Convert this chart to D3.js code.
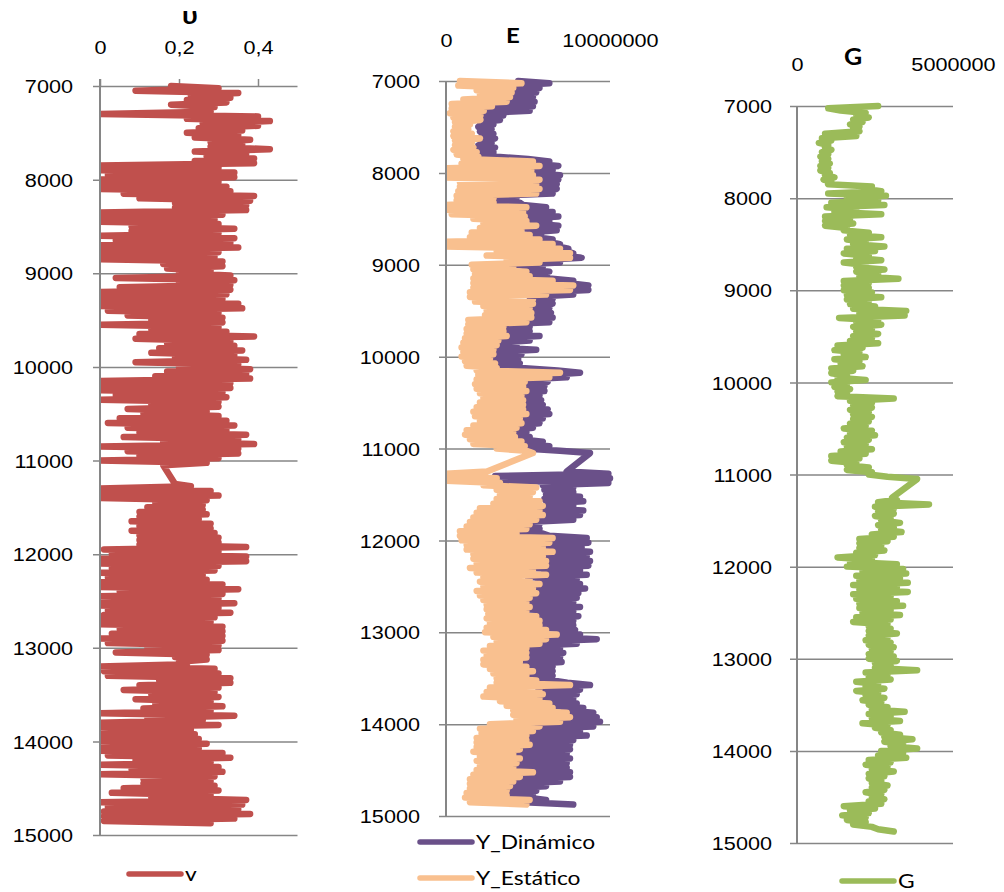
<!DOCTYPE html>
<html>
<head>
<meta charset="utf-8">
<script src="https://cdn.jsdelivr.net/npm/d3@7"></script>
<style>
  body { margin: 0; background: #fff; }
  svg { display: block; font-family: Lato, "Noto Sans", "DejaVu Sans", sans-serif; }
</style>
</head>
<body>
<svg id="chart" width="1004" height="892"></svg>
<script>
// ---------------------------------------------------------------
// Depth axis (ft) and tick labels
// ---------------------------------------------------------------
const depthTicks = [7000, 8000, 9000, 10000, 11000, 12000, 13000, 14000, 15000];
const nuTicks = [0, 0.2, 0.4];
const nuTickLabels = ["0", "0,2", "0,4"];
const eTicks = [0, 10000000];
const eTickLabels = ["0", "10000000"];
const gTicks = [0, 5000000];
const gTickLabels = ["0", "5000000"];

// Logged intervals (ft), 25 ft sampling; nothing was recorded between the two runs.
const logRuns = [[7000, 11050], [11250, 14875]];
const logStep = 25;

// Poisson's ratio
const nu = [
  .18,.30, .09,.35, .23,.33, .22,.32, .18,.29, .24,.28, 0,.40, .22,.43, .26,.40, .25,.36,
  .22,.35, .24,.38, .28,.36, .28,.43, .24,.37, .27,.39, .24,.39, 0,.30, 0,.34, .02,.34,
  0,.30, 0,.32, 0,.33, .06,.39, .10,.38, .19,.37, .19,.37, 0,.31, 0,.29, 0,.30,
  .08,.34, .08,.30, 0,.34, .04,.33, 0,.35, 0,.30, 0,.29, 0,.31, .16,.31, .17,.28,
  .20,.33, .04,.34, .20,.33, .05,.33, 0,.32, 0,.31, 0,.35, 0,.36, .02,.30, .07,.31,
  .13,.31, 0,.30, .13,.32, .10,.39, .09,.33, .17,.34, .15,.36, .13,.34, .19,.37, .09,.35,
  .20,.38, .17,.37, .14,.38, 0,.33, 0,.33, 0,.31, .04,.32, 0,.30, .13,.30, .07,.27,
  .11,.30, .05,.32, .02,.34, .07,.32, .10,.37, .06,.35, .16,.39, 0,.35, .07,.35, .10,.30,
  0,.27, .16,
  .19,.23,
  0,.28, 0,.30, 0,.27, .14,.26, .12,.26, .10,.27, .10,.25, .08,.28, .10,.28, .08,.29,
  .10,.30, .10,.30, .10,.37, .01,.30, .03,.37, 0,.37, 0,.30, .03,.29, 0,.26, .02,.27,
  0,.31, 0,.35, .05,.31, 0,.30, .01,.34, 0,.30, .02,.33, .01,.29, 0,.28, 0,.31,
  .05,.31, .03,.31, 0,.31, .02,.30, .12,.30, .04,.27, .19,.27, .20,.22, 0,.29, .01,.30,
  .02,.33, .15,.33, .10,.30, .06,.29, .13,.30, .09,.28, .14,.31, .11,.28, 0,.34, .12,.26,
  0,.30, 0,.23, .01,.24, 0,.25, 0,.27, .01,.25, 0,.31, .02,.33, .09,.28, 0,.30,
  .08,.31, 0,.29, .11,.28, .11,.29, .06,.30, .03,.28, .13,.37, 0,.36, .02,.35, .01,.38,
  .01,.34, .01,.28
];

// Young's modulus, in millions
const E_UNIT = 1e6;
const eDynamic = [
  4.4,6.3, 4.0,5.7, 3.9,5.5, 3.8,5.3, 3.6,5.4, 2.7,5.3, 2.3,5.1, 2.1,3.5, 2.1,3.29, 2.07,2.89,
  1.97,2.78, 2.07,2.89, 2.17,2.99, 2.07,2.78, 1.97,2.99, 1.97,2.89, 2.07,3.09, 5.0,6.3, 5.4,6.85, 5.0,6.5,
  5.1,6.95, 5.4,6.85, 5.3,6.75, 5.5,6.75, 5.3,6.5, 2.9,4.3, 2.9,4.5, 4.7,6.1, 4.6,6.5, 4.7,6.85,
  4.8,6.3, 5.3,6.85, 4.5,6.75, 5.0,5.8, 5.5,6.5, 6.2,6.95, 6.8,7.46, 7.3,7.76, 7.3,8.27, 5.5,6.95,
  4.0,5.9, 4.8,6.3, 5.0,6.0, 6.3,7.76, 7.5,8.68, 7.3,8.68, 5.9,7.76, 5.1,6.5, 5.1,6.5, 5.0,6.3,
  5.0,6.4, 5.0,6.5, 4.7,6.3, 3.3,5.1, 3.4,5.1, 3.5,5.7, 3.1,5.1, 3.0,4.3, 2.8,5.5, 2.8,4.6,
  2.6,4.4, 2.9,4.5, 3.0,4.6, 6.8,8.17, 6.1,7.36, 4.7,6.2, 4.6,6.0, 4.8,6.0, 4.5,5.7, 4.6,5.8,
  4.6,5.9, 4.6,6.2, 4.8,6.3, 4.4,5.9, 4.5,5.7, 4.2,5.3, 4.0,4.9, 4.1,5.1, 4.5,5.9, 4.7,6.3,
  4.8,6.95, 8.78,
  7.36,9.9,
  3.0,10.0, 3.2,9.9, 5.9,7.76, 6.0,7.76, 6.1,8.17, 6.0,8.37, 6.1,7.76, 5.6,8.37, 5.8,8.17, 5.4,7.76,
  5.0,5.7, 4.8,5.7, 4.2,5.9, 6.3,8.58, 6.2,8.68, 5.8,8.27, 6.3,8.78, 5.8,8.58, 6.0,8.78, 6.0,8.68,
  5.2,8.17, 6.0,8.58, 5.0,7.97, 5.6,8.17, 5.2,8.48, 5.4,8.07, 5.0,7.97, 4.8,7.76, 5.0,8.17, 4.8,7.76,
  5.4,8.07, 5.6,7.76, 5.6,7.76, 6.0,7.87, 6.6,8.17, 6.0,9.19, 5.6,7.97, 4.8,6.95, 4.8,7.15, 4.8,6.95,
  4.4,7.05, 4.8,6.5, 5.2,6.5, 4.8,6.5, 5.4,6.5, 7.4,8.78, 5.6,8.17, 5.8,7.97, 5.6,7.76, 6.2,7.97,
  6.4,8.37, 7.2,8.98, 7.4,9.19, 6.8,9.39, 5.6,8.98, 5.2,8.17, 4.8,8.58, 4.8,7.76, 5.0,7.56, 4.4,7.56,
  4.0,7.36, 4.4,7.56, 4.2,7.36, 4.0,7.36, 5.2,7.56, 4.4,7.56, 4.0,6.95, 3.8,6.1, 3.6,5.5, 3.6,5.3,
  5.0,6.1, 4.8,7.76
];
const eStatic = [
  .85,4.6, .75,4.1, 1.87,4.0, 2.07,3.9, 1.06,3.7, .35,2.8, .35,2.3, .24,2.1, .45,2.1, .55,1.46,
  .55,1.36, .45,1.57, .45,2.07, .55,1.57, .55,1.67, .45,1.87, .65,1.97, 1.06,5.3, .95,5.7, .05,5.2,
  0,5.3, 0,5.7, .85,5.5, .85,5.7, .75,5.5, .65,2.9, .65,2.9, 0,4.9, 0,4.7, .35,4.8,
  1.67,4.9, 2.28,5.5, 2.07,4.6, 1.57,5.1, 1.46,5.7, 0,6.5, 0,6.95, 3.09,7.56, 2.48,7.56, 3.7,5.7,
  1.57,4.1, 1.67,4.9, 1.77,5.1, 1.67,6.5, 1.67,7.76, 1.67,7.56, 1.46,6.1, 1.46,5.3, 1.77,5.3, 2.28,5.1,
  2.48,5.2, 2.38,5.2, 1.36,4.9, 1.36,3.5, 1.26,3.5, 1.26,3.7, 1.16,3.19, 1.06,3.09, .95,2.89, 1.06,2.89,
  .95,2.68, 1.16,2.99, 1.26,3.09, 1.87,6.95, 1.97,6.3, 1.87,4.8, 1.77,4.7, 1.87,4.9, 2.07,4.6, 2.28,4.7,
  2.07,4.7, 1.87,4.7, 1.67,4.9, 1.77,4.5, 2.07,4.6, 1.67,4.3, 1.26,4.1, 1.16,4.2, 1.46,4.6, 1.67,4.8,
  3.09,4.9, 5.3,
  2.5,0,
  0,3.09, .05,3.29, 2.28,5.5, 3.09,5.3, 3.29,5.1, 3.09,5.7, 2.89,5.9, 2.07,5.7, 1.87,5.9, 1.67,5.5,
  1.46,5.1, 1.26,4.9, .85,4.3, .85,6.5, .95,6.3, 1.26,5.9, 1.26,6.5, 1.67,5.9, 1.67,6.1, 1.87,6.1,
  1.46,5.3, 1.87,6.1, 2.28,5.1, 2.07,5.7, 2.28,5.3, 1.87,5.5, 2.07,5.1, 2.28,4.9, 2.48,5.1, 2.48,4.9,
  2.58,5.5, 2.48,5.7, 2.68,5.7, 2.48,6.1, 2.38,6.75, 2.89,6.1, 3.09,5.7, 2.68,4.9, 2.28,4.9, 2.48,4.9,
  2.28,4.5, 2.28,4.9, 2.68,5.3, 2.89,4.9, 3.09,5.5, 3.09,7.56, 2.68,5.7, 2.48,5.9, 2.28,5.7, 3.29,6.3,
  3.7,6.5, 4.1,7.36, 4.1,7.56, 4.3,6.95, 2.68,5.7, 2.07,5.3, 2.17,4.9, 1.87,4.9, 1.87,5.1, 1.87,4.5,
  1.67,4.1, 2.07,4.5, 1.87,4.3, 2.07,4.1, 1.87,5.3, 1.67,4.5, 1.46,4.1, 1.46,3.9, 1.46,3.7, 1.26,3.7,
  1.16,5.1, 1.46,4.9
];

// Shear modulus, in millions
const G_UNIT = 1e6;
const gShear = [
  2.6,1.0, 1.4,2.2, 1.9,2.3, 1.8,2.1, 1.7,2.0, 1.8,2.0, 0.9,1.9, 0.8,1.1, 0.7,1.0, 0.9,1.1,
  0.8,1.0, 0.75,1.0, 0.8,1.05, 0.75,1.0, 0.75,1.05, 0.9,1.2, 0.85,1.1, 1.0,2.4, 2.2,2.7, 1.0,2.85,
  1.6,2.6, 1.1,2.8, 0.95,1.9, 1.2,2.7, 0.9,1.7, 0.9,1.8, 0.9,1.6, 1.5,2.3, 1.7,2.7, 1.6,2.2,
  1.8,2.8, 1.6,2.5, 1.5,2.3, 1.9,2.7, 1.5,2.2, 1.9,2.8, 1.9,2.6, 2.0,3.25, 1.5,2.3, 1.5,2.3,
  1.5,2.4, 1.6,2.7, 1.6,2.3, 1.7,2.5, 1.8,3.5, 2.0,3.45, 1.35,2.6, 1.9,2.7, 1.8,2.4, 1.9,2.6,
  1.8,2.4, 1.7,2.6, 1.3,2.1, 1.2,2.0, 1.5,2.2, 1.2,2.0, 1.4,2.1, 1.1,1.8, 1.1,1.6, 1.3,2.2,
  1.1,1.6, 1.2,1.7, 1.3,1.6, 1.3,3.1, 1.7,2.4, 1.8,2.4, 1.7,2.3, 1.8,2.4, 1.8,2.3, 1.7,2.2,
  1.5,2.4, 1.7,2.5, 1.6,2.3, 1.5,2.2, 1.6,2.4, 1.4,2.2, 1.1,2.0, 1.1,1.9, 1.6,2.3, 1.6,2.4,
  2.3,2.9, 3.85,
  3.05,3.2,
  2.6,4.23, 2.5,3.1, 2.6,3.1, 2.5,3.0, 2.7,3.3, 2.6,3.1, 2.7,3.35, 2.4,3.1, 2.0,2.9, 2.0,2.7,
  2.0,2.8, 1.9,2.5, 1.3,2.4, 1.7,3.2, 1.6,3.4, 2.1,3.5, 1.9,3.3, 2.0,3.55, 1.8,3.2, 2.0,3.55,
  1.8,3.0, 1.9,3.2, 2.0,3.4, 2.0,3.0, 2.1,3.3, 1.9,3.0, 1.8,2.9, 2.3,3.0, 2.3,3.2, 2.3,2.9,
  2.2,3.0, 2.3,3.1, 2.4,3.0, 2.3,3.1, 2.3,3.2, 2.5,3.0, 2.5,3.85, 2.2,2.9, 2.3,3.0, 1.9,2.6,
  2.2,2.8, 1.9,2.6, 2.2,2.8, 2.1,2.7, 2.3,2.9, 2.4,3.45, 2.3,3.0, 2.4,3.3, 2.1,2.9, 2.5,3.0,
  2.7,3.3, 2.8,3.7, 2.8,3.4, 3.0,3.85, 2.7,3.4, 2.6,3.5, 2.3,3.0, 2.2,2.9, 2.4,3.1, 2.3,2.8,
  2.3,2.7, 2.4,2.9, 2.4,2.8, 2.2,2.7, 2.4,2.8, 2.3,2.7, 1.5,2.5, 1.7,2.3, 1.45,2.2, 1.6,2.2,
  1.8,2.4, 2.6,3.1
];

// ---------------------------------------------------------------
// Layout
// ---------------------------------------------------------------
const SX = 1.14;          // horizontal stretch of all lettering
const TICK_FONT = 19;
const LEGEND_FONT = 20;
const GRID = "#868686";
const TRACE_W = 6.5;
const KEY_W = 5.5;

const logDepths = logRuns.flatMap(([a, b]) => d3.range(a, b + logStep / 2, logStep));

const panels = [
  {
    left: 100, right: 297.5, top: 86, bottom: 835, xMax: 0.5,
    ticks: nuTicks, tickLabels: nuTickLabels, tickUp: 7, labelY: 47, labelGap: 27,
    title: "υ", titleX: 190, titleY: 15, titleSize: 25,
    series: [{ values: nu, unit: 1, color: "#C0504D", name: "v", lx: 129, ly: 874 }]
  },
  {
    left: 446, right: 610, top: 81, bottom: 816, xMax: 10000000,
    ticks: eTicks, tickLabels: eTickLabels, tickUp: 0, labelY: 40, labelGap: 26,
    title: "E", titleX: 513, titleY: 36, titleSize: 21,
    series: [
      { values: eDynamic, unit: E_UNIT, color: "#6A5089", name: "Y_Dinámico", lx: 420, ly: 842 },
      { values: eStatic, unit: E_UNIT, color: "#F9C08F", name: "Y_Estático", lx: 420, ly: 878 }
    ]
  },
  {
    left: 797, right: 953, top: 106, bottom: 843, xMax: 5000000,
    ticks: gTicks, tickLabels: gTickLabels, tickUp: 0, labelY: 64, labelGap: 25,
    title: "G", titleX: 853, titleY: 57, titleSize: 22,
    series: [{ values: gShear, unit: G_UNIT, color: "#9BBB59", name: "G", lx: 842, ly: 881 }]
  }
];

const svg = d3.select("#chart");

function stretchText(sel, dx) {
  sel.attr("x", 0).attr("y", null)
     .attr("transform", `translate(${dx},0) scale(${SX},1)`)
     .attr("fill", "#000")
     .style("font-size", TICK_FONT + "px");
}

panels.forEach((p, pi) => {
  const g = svg.append("g");
  const x = d3.scaleLinear().domain([0, p.xMax]).range([p.left, p.right]);
  const y = d3.scaleLinear().domain([7000, 15000]).range([p.top, p.bottom]);
  const w = p.right - p.left;

  // horizontal gridlines with their outer tick stubs
  const grid = g.append("g")
    .attr("transform", `translate(${p.left - 7},0)`)
    .call(d3.axisLeft(y).tickValues(depthTicks).tickSize(-(w + 7)).tickFormat(""));
  grid.select(".domain").remove();
  grid.selectAll("line").attr("stroke", GRID).attr("stroke-width", 1.5);

  // depth labels
  const yAx = g.append("g")
    .attr("transform", `translate(${p.left},0)`)
    .call(d3.axisLeft(y).tickValues(depthTicks).tickSize(0).tickFormat(d3.format("d")));
  yAx.select(".domain").remove();
  yAx.selectAll("text").attr("text-anchor", "end").attr("dy", "0.35em")
     .call(stretchText, -p.labelGap);

  // value axis along the top
  const xAx = g.append("g")
    .attr("transform", `translate(0,${p.top})`)
    .call(d3.axisTop(x).tickValues(p.ticks).tickSize(p.tickUp)
      .tickFormat((d, i) => p.tickLabels[i]));
  xAx.select(".domain").remove();
  xAx.selectAll("line").attr("stroke", GRID).attr("stroke-width", 1.5);
  xAx.selectAll("text").attr("text-anchor", "middle").call(stretchText, 0)
     .attr("y", p.labelY - p.top).attr("dy", "0.35em");

  // curves, clipped at the depth axis
  const clipId = "clip" + pi;
  svg.append("clipPath").attr("id", clipId)
    .append("rect").attr("x", p.left).attr("y", 0).attr("width", 1004 - p.left).attr("height", 892);
  const line = d3.line().x(d => x(d[1])).y(d => y(d[0]));
  p.series.forEach(s => {
    const pts = d3.zip(logDepths, s.values.map(v => v * s.unit));
    g.append("path")
      .datum(pts)
      .attr("clip-path", `url(#${clipId})`)
      .attr("d", line)
      .attr("fill", "none")
      .attr("stroke", s.color)
      .attr("stroke-width", TRACE_W)
      .attr("stroke-linejoin", "round")
      .attr("stroke-linecap", "round");
  });

  // vertical axis line
  g.append("line")
    .attr("x1", p.left).attr("x2", p.left)
    .attr("y1", p.top - p.tickUp).attr("y2", p.bottom)
    .attr("stroke", GRID).attr("stroke-width", 2);

  // title
  g.append("text")
    .attr("transform", `translate(${p.titleX},${p.titleY}) scale(${SX},1)`)
    .attr("text-anchor", "middle").attr("dy", "0.35em")
    .attr("font-weight", "bold").style("font-size", p.titleSize + "px")
    .text(p.title);

  // legend
  p.series.forEach(s => {
    g.append("line")
      .attr("x1", s.lx).attr("x2", s.lx + 52).attr("y1", s.ly).attr("y2", s.ly)
      .attr("stroke", s.color).attr("stroke-width", KEY_W).attr("stroke-linecap", "round");
    g.append("text")
      .attr("transform", `translate(${s.lx + 56},${s.ly}) scale(${SX},1)`)
      .attr("dy", "0.35em").style("font-size", LEGEND_FONT + "px")
      .text(s.name);
  });
});
</script>
</body>
</html>
